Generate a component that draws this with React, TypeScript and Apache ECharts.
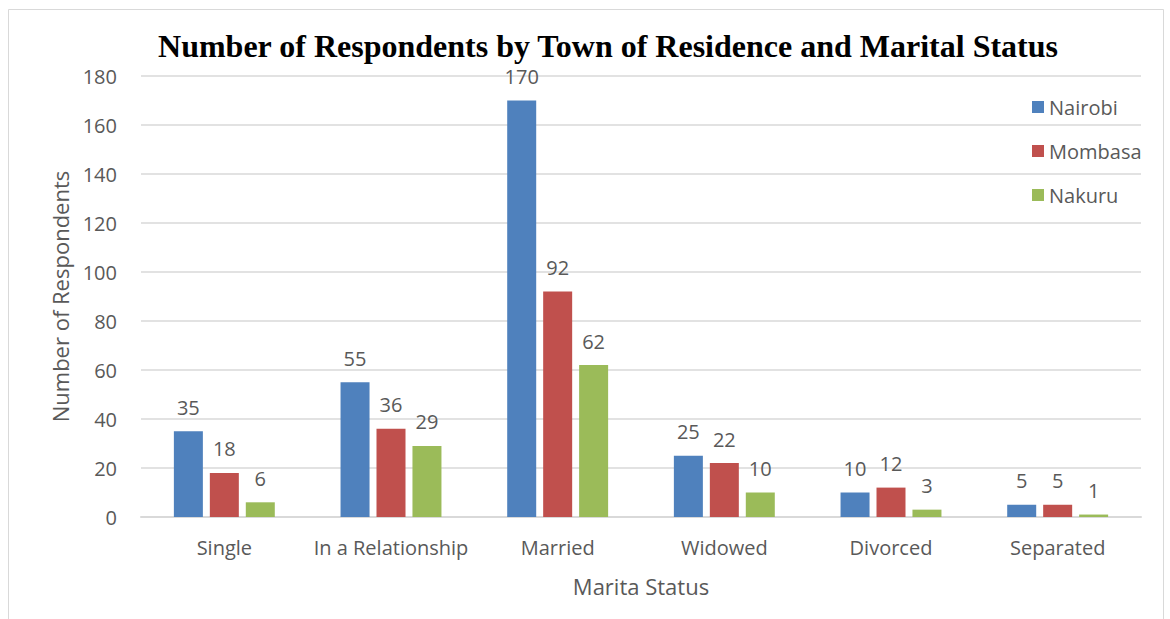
import React, { useEffect, useRef } from "react";
import * as echarts from "echarts";

const categories = ["Single", "In a Relationship", "Married", "Widowed", "Divorced", "Separated"];
const nairobi = [35, 55, 170, 25, 10, 5];
const mombasa = [18, 36, 92, 22, 12, 5];
const nakuru = [6, 29, 62, 10, 3, 1];
const yTicks = { min: 0, max: 180, interval: 20 };

const FONT = "'Open Sans', sans-serif";
const TXT = "#595959";

export default function App() {
  const ref = useRef<HTMLDivElement>(null);
  useEffect(() => {
    document.body.style.overflow = "hidden";
    const chart = echarts.init(ref.current!, null, { renderer: "svg" });
    const label = { show: true, position: "top", distance: 14, color: TXT, fontFamily: FONT, fontSize: 20 };
    const mk = (name: string, data: number[], color: string) => ({
      name,
      type: "bar",
      data,
      barWidth: 29,
      barGap: "24%",
      itemStyle: { color },
      label,
    });
    chart.setOption({
      animation: false,
      backgroundColor: "#fff",
      graphic: [
        {
          type: "rect",
          shape: { x: 8.5, y: 9.5, width: 1155, height: 700 },
          style: { fill: "none", stroke: "#d9d9d9", lineWidth: 1 },
          silent: true,
        },
      ],
      title: {
        text: "Number of Respondents by Town of Residence and Marital Status",
        left: 603,
        textAlign: "center",
        top: 25,
        textStyle: { fontFamily: "'Liberation Serif', serif", fontWeight: "bold", fontSize: 32, color: "#000" },
      },
      legend: {
        orient: "vertical",
        left: 1027,
        top: 92,
        itemWidth: 12,
        itemHeight: 12,
        itemGap: 24,
        icon: "rect",
        textStyle: { fontFamily: FONT, fontSize: 20, color: TXT, padding: [0, 0, 0, 0] },
        data: ["Nairobi", "Mombasa", "Nakuru"],
      },
      grid: { left: 141, right: 29, top: 76, bottom: 102 },
      xAxis: {
        type: "category",
        data: categories,
        name: "Marita Status",
        nameLocation: "middle",
        nameGap: 58,
        nameTextStyle: { fontFamily: FONT, fontSize: 22, color: TXT },
        axisLine: { lineStyle: { color: "#d9d9d9", width: 2 } },
        axisTick: { show: false },
        axisLabel: { fontFamily: FONT, fontSize: 20, color: TXT, margin: 20, interval: 0 },
      },
      yAxis: {
        type: "value",
        min: yTicks.min,
        max: yTicks.max,
        interval: yTicks.interval,
        name: "Number of Respondents",
        nameLocation: "middle",
        nameGap: 70,
        nameTextStyle: { fontFamily: FONT, fontSize: 22, color: TXT },
        axisLine: { show: false },
        axisTick: { show: false },
        splitLine: { lineStyle: { color: "#d9d9d9", width: 1.5 } },
        axisLabel: { fontFamily: FONT, fontSize: 20, color: TXT, margin: 24 },
      },
      series: [
        mk("Nairobi", nairobi, "#4F81BD"),
        mk("Mombasa", mombasa, "#C0504D"),
        mk("Nakuru", nakuru, "#9BBB59"),
      ],
    });
    return () => chart.dispose();
  }, []);
  return (
    <div
      ref={ref}
      style={{ position: "fixed", left: 0, top: 0, width: 1170, height: 619 }}
    />
  );
}
